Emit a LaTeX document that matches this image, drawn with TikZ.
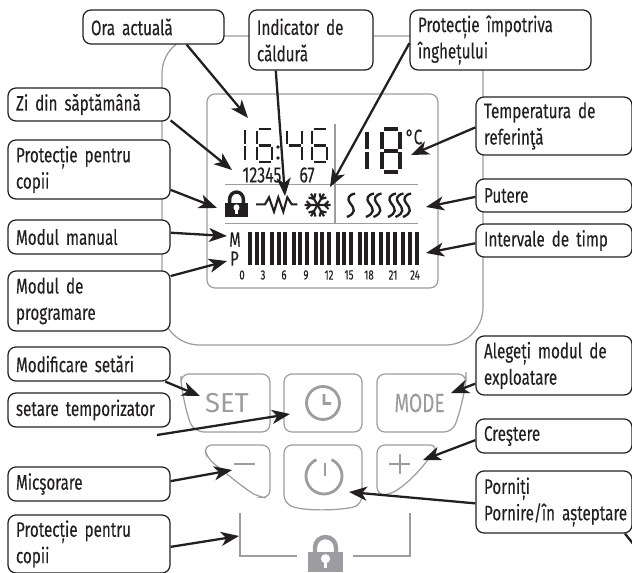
\documentclass[tikz,border=0pt]{standalone}
\usepackage{fontspec}
\setmainfont[FakeStretch=0.72, FakeBold=0.12]{Fira Sans}
\newfontfamily\keyfont{Fira Sans}
\usepackage{tikz}
\usetikzlibrary{arrows.meta}

\definecolor{inkc}{HTML}{231F20}
\definecolor{grayc}{HTML}{9C9DA0}

\def\sega{(.1,0) -- (.9,0)}
\def\segb{(1,.06) -- (1,.46)}
\def\segc{(1,.54) -- (1,.94)}
\def\segd{(.1,1) -- (.9,1)}
\def\sege{(0,.54) -- (0,.94)}
\def\segf{(0,.06) -- (0,.46)}
\def\segg{(.1,.5) -- (.9,.5)}

\newcommand{\lcddigit}[6]{%
  \begin{scope}[shift={(#1,#2)}, x=#3*.02cm, y=-#4*.02cm]
    \foreach \s in {#6} {
      \draw[line width=#5*.02cm, draw=inkc] \csname seg\s\endcsname;
    }
  \end{scope}}

\newcommand{\padlock}[6]{%
  \begin{scope}[shift={(#1,#2)}, x=#3*.02cm, y=-#4*.02cm]
    \draw[#6, line width=#5*.02cm] (.2,.5) -- (.2,.3) arc[start angle=180, end angle=360, radius=.3] -- (.8,.5);
    \fill[#6] (0,.42) rectangle (1,1);
    \fill[white] (.5,.62) circle[radius=.13];
    \fill[white] (.45,.65) rectangle (.55,.88);
  \end{scope}}

\begin{document}
\begin{tikzpicture}[
  x=.02cm, y=-.02cm,
  lbl/.style 2 args={draw=inkc, fill=white, line width=.7pt, rounded corners=.16cm,
              align=left, font=\fontsize{12}{15}\selectfont, inner xsep=.16cm, inner ysep=0pt,
              text width={(#1-16)*.02cm}, minimum height={#2*.02cm}},
  arr/.style={draw=inkc, line width=1.3pt, -{Stealth[length=.36cm, width=.28cm, inset=.1cm]}},
  btn/.style={draw=grayc, line width=.7pt, rounded corners=.16cm},
  glyph/.style={draw=grayc, line width=1.6pt},
  lcdline/.style={draw=inkc, line width=1.2pt},
  wave/.style={draw=inkc, line width=1.3pt},
  every node/.style={text=inkc}
]
  \useasboundingbox (0,0) rectangle (632,572);

  % housing and display
  \draw[draw=grayc, line width=.7pt, rounded corners=.75cm] (162,36) rectangle (483,345);
  \draw[draw=grayc, line width=.7pt, rounded corners=.16cm] (207,94) rectangle (438,288);
  \draw[draw=grayc, line width=.7pt] (225,184.5) -- (418,184.5) (225,223.5) -- (418,223.5) (335,124) -- (335,223.5);

  % clock and set point
  \lcddigit{240}{128}{5}{34}{2.8}{b,c}
  \lcddigit{257}{129}{15}{33}{2.8}{a,c,d,e,f,g}
  \fill[inkc] (278,147) circle[radius=1.8] (278,158) circle[radius=1.8];
  \lcddigit{287}{129}{15}{33}{2.8}{b,c,f,g}
  \lcddigit{312}{129}{15}{33}{2.8}{a,c,d,e,f,g}
  \lcddigit{357}{129}{10}{43}{4}{b,c}
  \lcddigit{382}{129}{18}{43}{4}{a,b,c,d,e,f,g}
  \node[font=\fontsize{12}{12}\selectfont] (degc) at (414,137) {°C};
  \node[font=\fontsize{12.6}{12}\selectfont] (wkdays) at (262,175) {12345};
  \node[font=\fontsize{12.6}{12}\selectfont] (wkend) at (307,175) {67};

  % status icons
  \padlock{225}{192}{23}{25}{3.4}{inkc}
  \draw[lcdline] (256,204.3) -- (265,204.3) -- (269,197.3) -- (274,211.7) -- (278.3,197.3)
    -- (283.3,211.7) -- (287.3,197.3) -- (291.7,204.3) -- (297.3,204.3);
  \foreach \a in {0,60,...,300} {
    \begin{scope}[shift={(317.5,205)}, rotate=\a]
      \draw[lcdline] (0,0) -- (13,0) (7,0) -- (11,4) (7,0) -- (11,-4);
    \end{scope}
  }
  \foreach \xs in {346,365,372.5,387,394.5,402} {
    \draw[wave] (\xs+9,193.5) .. controls (\xs+2,195) and (\xs+1,199) .. (\xs+4,203)
      .. controls (\xs+9,209) and (\xs+10,213) .. (\xs+1,217);
  }

  % schedule bar
  \node[font=\fontsize{11.6}{12}\selectfont, inner sep=0pt] (modem) at (235,239.5) {M};
  \node[font=\fontsize{11.6}{12}\selectfont, inner sep=0pt] (modep) at (234.5,258.5) {P};
  \foreach \g in {0,...,7} {
    \foreach \b in {0,1,2} {
      \fill[inkc] (248+\g*21.9+\b*6.67,232) rectangle ++(4,33);
    }
  }
  \foreach \xh/\h in {242/0, 263/3, 284/6, 306/9, 329/12, 349/15, 369/18, 393/21, 415/24} {
    \node[font=\fontsize{7.6}{8}\selectfont] (h\h) at (\xh,275) {\h};
  }

  % buttons
  \draw[btn] (181,374) -- (270,374) -- (270,432) -- (196,432) .. controls (188,420) and (184,400) .. (181,384) -- cycle;
  \draw[btn] (284,374) rectangle (362,432);
  \draw[btn] (377,374) -- (466,374) -- (466,380) .. controls (463,400) and (458,418) .. (452,432) -- (377,432) -- cycle;
  \draw[btn] (204,445) -- (270,445) -- (270,498) -- (258,497) .. controls (240,485) and (222,470) .. (207,458) -- cycle;
  \draw[btn] (284,445) -- (362,445) -- (362,504) .. controls (345,510) and (305,512) .. (284,503) -- cycle;
  \draw[btn] (377,445) -- (438,445) .. controls (425,465) and (410,482) .. (389,495) -- (377,495) -- cycle;
  \node[font=\keyfont\fontsize{15.6}{16}\selectfont, text=grayc] (setlbl) at (227,403) {SET};
  \node[font=\fontsize{15}{16}\selectfont, text=grayc] (modelbl) at (419.5,403) {MODE};
  \draw[glyph] (323,403) circle[radius=16.5] (324,394) -- (324,403.5) -- (331,403.5);
  \draw[glyph] (324,476) ++(-65:18) arc[start angle=-65, end angle=245, radius=18];
  \draw[glyph] (325,463) -- (325,476);
  \draw[glyph] (234,464) -- (255,464);
  \draw[glyph] (389,464) -- (410,464) (400,454) -- (400,474);
  \draw[draw=grayc, line width=1pt] (240,513) -- (240,556) -- (297,556) (353,556) -- (410,556) -- (410,513);
  \padlock{308}{537}{35}{35}{4.4}{grayc}

  % labels, left column
  \node[lbl={141}{34}] (ora)  at (153.5,27) {Ora actuală};
  \node[lbl={124}{60}] (ind)  at (311,40) {Indicator de\\căldură};
  \node[lbl={181}{60}] (ice)  at (500.5,40) {Protecție împotriva\\înghețului};
  \node[lbl={162}{33}] (zi)   at (89,104.5) {Zi din săptămână};
  \node[lbl={162}{59}] (kid)  at (89,169.5) {Protecție pentru\\copii};
  \node[lbl={162}{34}] (man)  at (89,237) {Modul manual};
  \node[lbl={162}{60}] (prog) at (89,301) {Modul de\\programare};
  \node[lbl={162}{34}] (mod)  at (89,364) {Modificare setări};
  \node[lbl={162}{34}] (tim)  at (89,410) {setare temporizator};
  \node[lbl={162}{34}] (dec)  at (89,484) {Micşorare};
  \node[lbl={162}{58}] (lock) at (89,544) {Protecție pentru\\copii};

  % labels, right column
  \node[lbl={156}{58}] (temp) at (554,126) {Temperatura de\\referinţă};
  \node[lbl={156}{33}] (pow)  at (554,195.5) {Putere};
  \node[lbl={156}{33}] (slot) at (554,240.5) {Intervale de timp};
  \node[lbl={156}{59}] (sel)  at (554,365.5) {Alegeți modul de\\exploatare};
  \node[lbl={156}{34}] (inc)  at (554,436) {Creştere};
  \node[lbl={156}{62}] (start) at (554,502) {Porniți\\\mbox{Pornire/în așteptare}};

  % pointer ends
  \coordinate (pora)  at (248,118);
  \coordinate (pzi)   at (232,170);
  \coordinate (pkid)  at (217,208);
  \coordinate (pman)  at (227,236);
  \coordinate (pprog) at (227,261);
  \coordinate (pind)  at (285,196);
  \coordinate (pice)  at (330,187);
  \coordinate (ptemp) at (411,155);
  \coordinate (ppow)  at (426,207);
  \coordinate (pslot) at (426,253);
  \coordinate (psel)  at (451,393);
  \coordinate (pinc)  at (423,460);
  \coordinate (pstart) at (349,492);
  \coordinate (pmod)  at (200,396);
  \coordinate (ttim)  at (157,435);
  \coordinate (ptim)  at (290,414);
  \coordinate (pdec)  at (232,470);
  \coordinate (plock) at (239,536);
  \coordinate (pout)  at (634,545);

  \draw[arr] (ora.-28) -- (pora);
  \draw[arr] (zi.-11) -- (pzi);
  \draw[arr] (kid.-14) -- (pkid);
  \draw[arr] (man.3) -- (pman);
  \draw[arr] (prog.17) -- (pprog);
  \draw[arr] (ind.-139) -- (pind);
  \draw[arr] (ice.182) -- (pice);
  \draw[arr] (temp.181) -- (ptemp);
  \draw[arr] (pow.181) -- (ppow);
  \draw[arr] (slot.182) -- (pslot);
  \draw[arr] (sel.193) -- (psel);
  \draw[arr] (inc.183) -- (pinc);
  \draw[arr] (start.181) -- (pstart);
  \draw[arr] (mod.-13) -- (pmod);
  \draw[arr] (ttim) -- (ptim);
  \draw[arr] (dec.2) -- (pdec);
  \draw[arr] (lock.-2) -- (plock);
  \draw[draw=inkc, line width=1.3pt] (start.-24) -- (pout);
\end{tikzpicture}
\end{document}
